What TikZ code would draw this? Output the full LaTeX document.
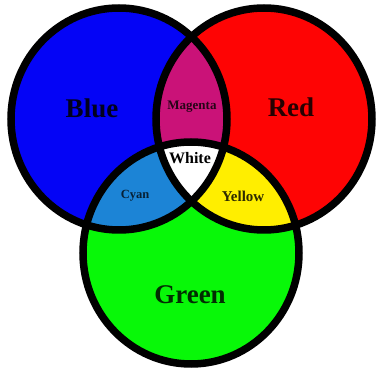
\documentclass[tikz,border=0pt]{standalone}
\usepackage{fontspec}
\setmainfont{Liberation Serif}
\usepackage{xcolor}
\usepackage{tikz}
\definecolor{cBlue}{HTML}{0404F6}
\definecolor{cRed}{HTML}{FE0404}
\definecolor{cGreen}{HTML}{08F808}
\definecolor{cMagenta}{HTML}{CA1278}
\definecolor{cCyan}{HTML}{1C84D6}
\definecolor{cYellow}{HTML}{FFEE00}
\tikzset{
  venn/.style  = {x radius=108, y radius=111},
  ring/.style  = {draw=black, line width=7.5pt},
  big/.style   = {font=\bfseries\fontsize{27}{27}\selectfont, inner sep=0pt},
  small/.style = {font=\bfseries\fontsize{14}{14}\selectfont, inner sep=0pt},
}

\begin{document}
\begin{tikzpicture}[x=1pt,y=1pt]
  \useasboundingbox (0,0) rectangle (378,375);
  \coordinate (cB) at (119,256);
  \coordinate (cR) at (264,256);
  \coordinate (cG) at (191,122);
  % primaries
  \fill[cBlue]  (cB) ellipse [venn];
  \fill[cRed]   (cR) ellipse [venn];
  \fill[cGreen] (cG) ellipse [venn];
  % overlaps
  \begin{scope}
    \clip (cR) ellipse [venn];
    \fill[cYellow] (cG) ellipse [venn];
  \end{scope}
  \begin{scope}
    \clip (cB) ellipse [venn];
    \fill[cMagenta] (cR) ellipse [venn];
    \fill[cCyan] (cG) ellipse [venn];
    \clip (cR) ellipse [venn];
    \fill[white] (cG) ellipse [venn];
  \end{scope}
  % outlines
  \draw[ring] (cB) ellipse [venn];
  \draw[ring] (cR) ellipse [venn];
  \draw[ring] (cG) ellipse [venn];
  % labels
  \node[big, text=cBlue!12!black]  (blue)  at (92,267)  {Blue};
  \node[big, text=cRed!15!black]   (red)   at (291,268) {Red};
  \node[big, text=cGreen!18!black] (green) at (190,80)  {Green};
  \node[small, text=cMagenta!20!black, font=\bfseries\fontsize{13}{13}\selectfont] (mag) at (192,268) {Magenta};
  \node[small, text=black, font=\bfseries\fontsize{16}{16}\selectfont] (wht) at (190,217) {White};
  \node[small, text=cCyan!25!black, font=\bfseries\fontsize{12.5}{12.5}\selectfont] (cyn) at (135,179) {Cyan};
  \node[small, text=cYellow!18!black, font=\bfseries\fontsize{15}{15}\selectfont] (yel) at (243,179) {Yellow};
\end{tikzpicture}
\end{document}
